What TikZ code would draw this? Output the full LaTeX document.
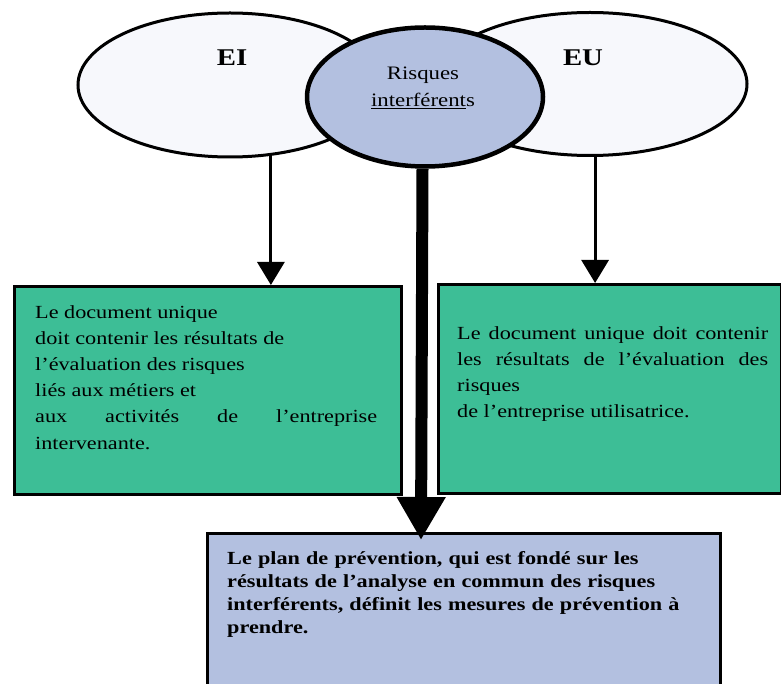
\documentclass[tikz,border=0pt]{standalone}
\usepackage{fontspec}
\setmainfont{Liberation Serif}[FakeStretch=1.2]
\usetikzlibrary{shapes.geometric,arrows.meta}
\definecolor{ellfill}{HTML}{F7F8FC}
\definecolor{lav}{HTML}{B3C0E0}
\definecolor{grn}{HTML}{3DBE96}
\begin{document}
\begin{tikzpicture}[x=1pt,y=-1pt,
  ell/.style={ellipse, draw, line width=3pt, fill=ellfill, inner sep=0pt},
  ribox/.style={ellipse, draw, line width=4.5pt, fill=lav, inner sep=0pt},
  boxx/.style={rectangle, draw, line width=3pt, inner sep=0pt, anchor=north west},
  txt/.style={inner sep=0pt, anchor=north west, font=\fontsize{18.5}{26.2}\selectfont},
  lbl/.style={inner sep=0pt, font=\fontsize{24}{28}\selectfont\bfseries},
  thinarrow/.style={line width=3pt, -{Triangle[width=27pt,length=23pt]}},
  bigarrow/.style={line width=12pt, -{Triangle[width=46pt,length=43pt]}}
]
\path[use as bounding box] (0,0) rectangle (781,684);
\clip (0,0) rectangle (781,684);
\fill[white] (0,0) rectangle (781,684);

% ellipses
\node[ell, minimum width=304pt, minimum height=144pt] (ei) at (230,85) {};
\node[ell, minimum width=314pt, minimum height=143pt] (eu) at (590,84) {};
\node[ribox, minimum width=236pt, minimum height=139pt] (ri) at (425,97) {};

\node[lbl] (eit) at (232,58) {EI};
\node[lbl] (eut) at (583,58) {EU};
\node[inner sep=0pt, align=center, font=\fontsize{19}{27}\selectfont] (rit) at (423,88) {Risques\\\underline{interférent}s};

% boxes
\node[boxx, fill=grn, minimum width=387pt, minimum height=208pt] (lbox) at (13,285) {};
\node[boxx, fill=grn, minimum width=343pt, minimum height=209pt] (rbox) at (437,283) {};
\node[boxx, fill=lav, minimum width=513pt, minimum height=170pt] (pbox) at (206,532) {};

% arrows
\draw[thinarrow] (ei.-60) -- (ei.-60 |- lbox.north);
\draw[thinarrow] (eu.-86) -- (eu.-86 |- rbox.north);
\coordinate (tip) at (421,540);
\draw[bigarrow] (ri.-92) -- (tip);

% texts
\node[txt, text width=342pt, align=justify] (ltext) at (35,305)
 {Le document unique\\ doit contenir les résultats de\\ l'évaluation des risques\\ liés aux métiers et\\ aux activités de l'entreprise\linebreak intervenante.};
\node[txt, text width=311pt, align=justify] (rtext) at (457,326)
 {Le document unique doit contenir\linebreak les résultats de l'évaluation des\linebreak risques\\ de l'entreprise utilisatrice.};
\node[txt, font=\fontsize{18.5}{23.2}\selectfont\bfseries, text width=480pt, align=left] (ptext) at (227,551)
 {Le plan de prévention, qui est fondé sur les\\ résultats de l'analyse en commun des risques\\ interférents, définit les mesures de prévention à\\ prendre.};
\end{tikzpicture}
\end{document}
